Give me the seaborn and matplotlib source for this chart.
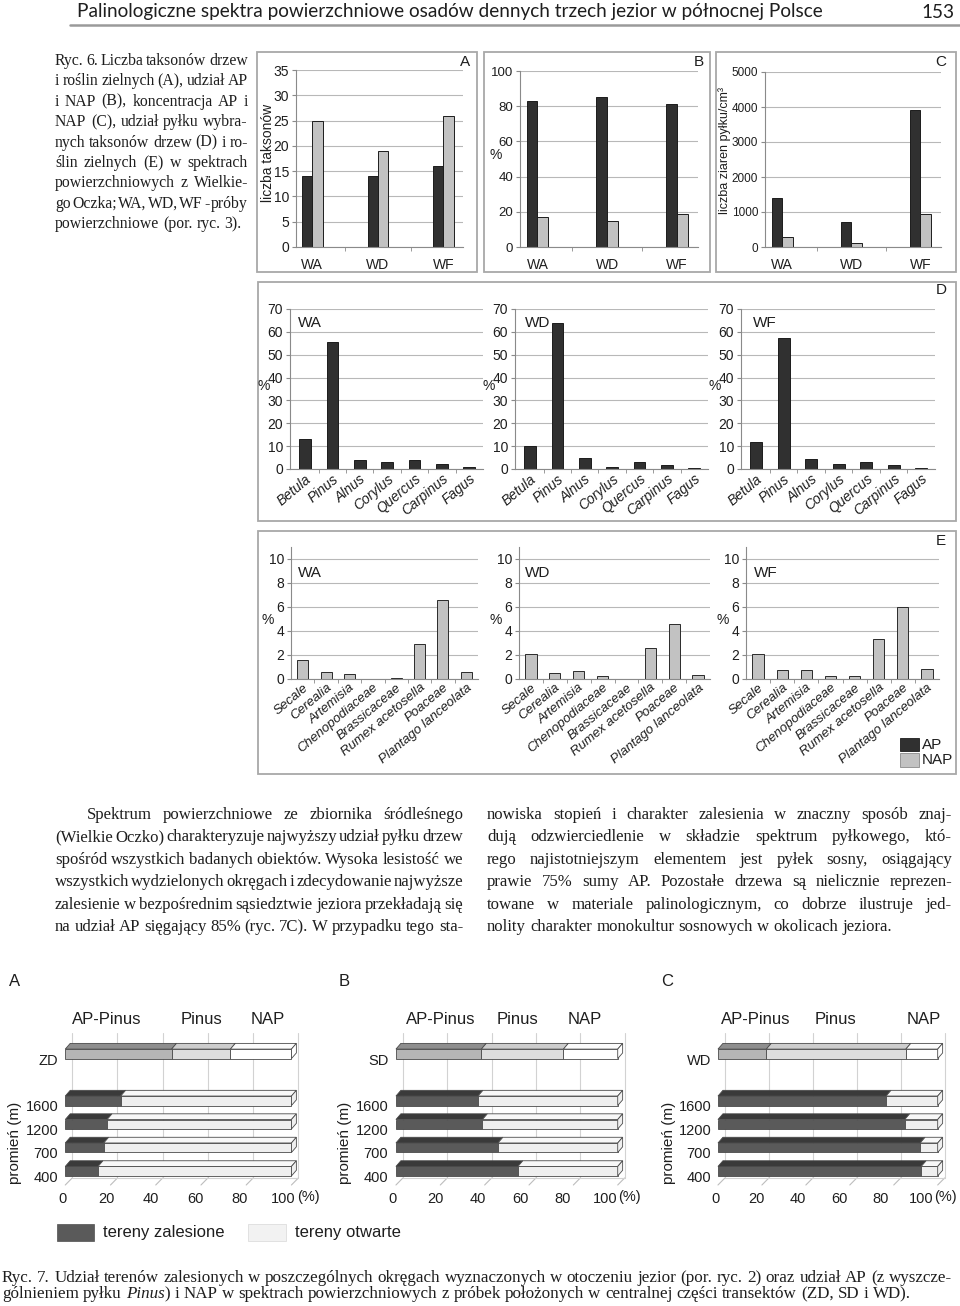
import matplotlib
matplotlib.use("Agg")
import matplotlib.pyplot as plt
import seaborn as sns
import numpy as np
import pandas as pd
from matplotlib.patches import Rectangle, Polygon
from matplotlib.lines import Line2D

# ---------------- Ryc. 6 data ----------------
samples = ["WA", "WD", "WF"]
taxa_count_ap = [14, 14, 16]
taxa_count_nap = [25, 19, 26]
share_ap = [83, 85, 81]
share_nap = [17, 15, 19]
conc_ap = [1400, 720, 3920]
conc_nap = [280, 110, 940]

tree_taxa = ["Betula", "Pinus", "Alnus", "Corylus", "Quercus", "Carpinus", "Fagus"]
trees_wa = [13.3, 55.5, 3.8, 3.2, 3.8, 2.0, 1.0]
trees_wd = [10.2, 63.8, 4.9, 1.0, 3.1, 1.6, 0.6]
trees_wf = [11.7, 57.2, 4.5, 2.2, 3.1, 1.9, 0.6]

herb_taxa = ["Secale", "Cerealia", "Artemisia", "Chenopodiaceae", "Brassicaceae",
             "Rumex acetosella", "Poaceae", "Plantago lanceolata"]
herbs_wa = [1.6, 0.55, 0.42, 0, 0.06, 2.9, 6.6, 0.55]
herbs_wd = [2.1, 0.5, 0.68, 0.28, 0, 2.6, 4.6, 0.32]
herbs_wf = [2.1, 0.78, 0.78, 0.28, 0.28, 3.3, 6.0, 0.83]

# ---------------- Ryc. 7 data ----------------
radii = ["400", "700", "1200", "1600"]
forest_a = [14.5, 17, 18.5, 24.5]
forest_b = [55, 46, 39, 37]
forest_c = [92.5, 92, 85, 76.5]
centre_samples = ["ZD", "SD", "WD"]
spectrum_parts = ["AP-Pinus", "Pinus", "NAP"]
spectrum_a = [47, 26, 27]
spectrum_b = [38.5, 37, 24.5]
spectrum_c = [22, 63.5, 14.5]
pct_ticks = [0, 20, 40, 60, 80, 100]

# ---------------- text ----------------
header = "Palinologiczne spektra powierzchniowe osadów dennych trzech jezior w północnej Polsce"
caption6 = [
    "Ryc. 6. Liczba taksonów drzew",
    "i roślin zielnych (A), udział AP",
    "i NAP (B), koncentracja AP i",
    "NAP (C), udział pyłku wybra-",
    "nych taksonów drzew (D) i ro-",
    "ślin zielnych (E) w spektrach",
    "powierzchniowych z Wielkie-",
    "go Oczka; WA, WD, WF - próby",
    "powierzchniowe (por. ryc. 3).",
]
body_left = [
    "Spektrum powierzchniowe ze zbiornika śródleśnego",
    "(Wielkie Oczko) charakteryzuje najwyższy udział pyłku drzew",
    "spośród wszystkich badanych obiektów. Wysoka lesistość we",
    "wszystkich wydzielonych okręgach i zdecydowanie najwyższe",
    "zalesienie w bezpośrednim sąsiedztwie jeziora przekładają się",
    "na udział AP sięgający 85% (ryc. 7C). W przypadku tego sta-",
]
body_right = [
    "nowiska stopień i charakter zalesienia w znaczny sposób znaj-",
    "dują odzwierciedlenie w składzie spektrum pyłkowego, któ-",
    "rego najistotniejszym elementem jest pyłek sosny, osiągający",
    "prawie 75% sumy AP. Pozostałe drzewa są nielicznie reprezen-",
    "towane w materiale palinologicznym, co dobrze ilustruje jed-",
    "nolity charakter monokultur sosnowych w okolicach jeziora.",
]
caption7 = [
    "Ryc. 7. Udział terenów zalesionych w poszczególnych okręgach wyznaczonych w otoczeniu jezior (por. ryc. 2) oraz udział AP (z wyszcze-",
    "gólnieniem pyłku *Pinus*) i NAP w spektrach powierzchniowych z próbek położonych w centralnej części transektów (ZD, SD i WD).",
]

sns.set_style("white")
SANS = ["Liberation Sans", "DejaVu Sans"]
SERIF = ["Liberation Serif", "DejaVu Serif"]
plt.rcParams["font.family"] = SANS
TXT = "#1e1e1e"
AP_COLOR = "#303030"
NAP_COLOR = "#c2c2c2"
GRID = "#b8b8b8"
AXIS = "#8a8a8a"

W, H = 960, 1306
fig = plt.figure(figsize=(W / 100, H / 100), dpi=100)
renderer = fig.canvas.get_renderer()


def fbox(x0, y0, x1, y1):
    return [x0 / W, 1 - y1 / H, (x1 - x0) / W, (y1 - y0) / H]


def ftext(x, y, s, **kw):
    kw.setdefault("color", TXT)
    return fig.text(x / W, 1 - y / H, s, **kw)


def frame(x0, y0, x1, y1, **kw):
    fig.add_artist(Rectangle((x0 / W, 1 - y1 / H), (x1 - x0) / W, (y1 - y0) / H,
                             transform=fig.transFigure, fill=False, **kw))


def measure(s, size, family, style="normal"):
    t = fig.text(0, 0, s, fontsize=size, family=family, style=style)
    w = t.get_window_extent(renderer=renderer).width
    t.remove()
    return w


def segments(word):
    parts = word.split("*")
    return [(p, "italic" if i % 2 else "normal") for i, p in enumerate(parts) if p]


def word_widths(line, size, family):
    return [sum(measure(p, size, family, st) for p, st in segments(w)) for w in line.split()]


def put_line(line, x0, x1, y, size, family, justify=True):
    segs = [segments(w) for w in line.split()]
    widths = word_widths(line, size, family)
    space = measure("a a", size, family) - measure("aa", size, family)
    if justify and len(segs) > 1:
        gap = (x1 - x0 - sum(widths)) / (len(segs) - 1)
    else:
        gap = space
    x = x0
    for sg, w in zip(segs, widths):
        xx = x
        for p, st in sg:
            ftext(xx, y, p, fontsize=size, family=family, style=st, va="baseline", ha="left")
            xx += measure(p, size, family, st)
        x += w + gap


def put_block(lines, spans, ys, family, free_last, min_gap=0.3):
    # one size for the whole block: typical fit, but every justified line must keep a small gap
    space10 = measure("a a", 10, family) - measure("aa", 10, family)
    fits, tight = [], []
    for i, (line, (x0, x1)) in enumerate(zip(lines, spans)):
        if i in free_last:
            continue
        n = len(line.split())
        w10 = sum(word_widths(line, 10, family))
        fits.append(10 * (x1 - x0) / (w10 + (n - 1) * space10))
        tight.append(10 * (x1 - x0) / (w10 + (n - 1) * min_gap * space10))
    size = min(float(np.median(fits)), min(tight))
    for i, (line, (x0, x1), y) in enumerate(zip(lines, spans, ys)):
        put_line(line, x0, x1, y, size, family, justify=i not in free_last)


def style_axes(ax, ylim, yticks):
    ax.set_ylim(*ylim)
    ax.set_yticks(yticks)
    ax.grid(axis="y", color=GRID, lw=0.8)
    ax.grid(axis="x", visible=False)
    ax.set_axisbelow(True)
    for s in ["top", "right"]:
        ax.spines[s].set_visible(False)
    for s in ["left", "bottom"]:
        ax.spines[s].set_color(AXIS)
        ax.spines[s].set_linewidth(0.8)
    ax.tick_params(axis="y", length=3, color=AXIS, labelsize=10, pad=2, left=True, labelcolor=TXT)
    ax.tick_params(axis="x", which="major", length=0, labelcolor=TXT)
    ax.tick_params(axis="x", which="minor", length=3, color=AXIS, bottom=True)
    ax.set_xlabel("")
    ax.set_ylabel("")
    ax.patch.set_alpha(0)


def italic_rotated(ax, size):
    ax.tick_params(axis="x", labelsize=size, pad=2)
    for lab in ax.get_xticklabels():
        lab.set_rotation(40)
        lab.set_ha("right")
        lab.set_rotation_mode("anchor")
        lab.set_style("italic")


# ---------------- header ----------------
hsize = 10 * 750 / measure(header, 10, "Lato")
ftext(77, 17.5, header, fontsize=hsize, family="Lato", va="baseline")
ftext(954, 17.5, "153", fontsize=hsize, family="Lato", va="baseline", ha="right")
fig.add_artist(Line2D([70 / W, 1], [1 - 25 / H] * 2, transform=fig.transFigure, color="#9a9a9a", lw=1.8))

# ---------------- caption Ryc. 6 ----------------
put_block(caption6, [(55, 248)] * len(caption6), [65 + 20.4 * i for i in range(len(caption6))],
          SERIF, free_last={len(caption6) - 1})

# ---------------- Ryc. 6 A, B, C ----------------
pair_panels = [
    ("A", (257, 52, 477, 272), (296, 70, 463, 247), taxa_count_ap, taxa_count_nap, 35, 5, 465, 10),
    ("B", (484, 52, 710, 272), (520, 71, 698, 247), share_ap, share_nap, 100, 20, 699, 9.5),
    ("C", (716, 52, 956, 272), (765, 72, 941, 247), conc_ap, conc_nap, 5000, 1000, 941, 8.5),
]
for letter, fr, axp, ap, nap, ymax, step, lx, ysize in pair_panels:
    frame(*fr, edgecolor="#a8a8a8", lw=1.3)
    ax = fig.add_axes(fbox(*axp))
    df = pd.DataFrame({"sample": samples * 2, "group": ["AP"] * 3 + ["NAP"] * 3, "value": ap + nap})
    sns.barplot(df, x="sample", y="value", hue="group", palette={"AP": AP_COLOR, "NAP": NAP_COLOR},
                width=0.31, saturation=1, edgecolor="#1c1c1c", linewidth=0.7, errorbar=None,
                legend=False, ax=ax)
    ax.set_xlim(-0.25, 2.3)
    ax.set_xticks([0.5, 1.5], minor=True)
    style_axes(ax, (0, ymax), np.arange(0, ymax + step / 2, step))
    ax.tick_params(axis="x", labelsize=10, pad=8)
    ax.tick_params(axis="y", labelsize=ysize)
    ftext(lx, 62, letter, fontsize=11, ha="center", va="center")

ftext(268, 153, "liczba taksonów", fontsize=10, rotation=90, ha="center", va="center")
ftext(496, 155, "%", fontsize=10, ha="center", va="center")
ftext(725, 150, "liczba ziaren pyłku/cm³", fontsize=9, rotation=90, ha="center", va="center")

# ---------------- Ryc. 6 D ----------------
frame(258, 282, 956, 521, edgecolor="#a8a8a8", lw=1.3)
ftext(941, 290, "D", fontsize=11, ha="center", va="center")
tree_panels = [
    (trees_wa, "WA", (290, 309, 483, 469), 264, 310),
    (trees_wd, "WD", (515, 309, 708, 469), 489, 538),
    (trees_wf, "WF", (741, 309, 935, 469), 715, 765),
]
for vals, name, axp, px, nx in tree_panels:
    ax = fig.add_axes(fbox(*axp))
    sns.barplot(x=tree_taxa, y=vals, color=AP_COLOR, saturation=1, width=0.43,
                edgecolor="#1c1c1c", linewidth=0.7, errorbar=None, ax=ax)
    ax.set_xlim(-0.55, 6.5)
    ax.set_xticks(np.arange(len(tree_taxa) - 1) + 0.5, minor=True)
    style_axes(ax, (0, 70), np.arange(0, 71, 10))
    italic_rotated(ax, 10)
    ftext(px, 386, "%", fontsize=10, ha="center", va="center")
    ftext(nx, 323, name, fontsize=11, ha="center", va="center")

# ---------------- Ryc. 6 E ----------------
frame(258, 531, 956, 774, edgecolor="#a8a8a8", lw=1.3)
ftext(941, 541, "E", fontsize=11, ha="center", va="center")
herb_panels = [
    (herbs_wa, "WA", (291, 547, 478, 679), 268, 310),
    (herbs_wd, "WD", (519, 547, 710, 679), 496, 538),
    (herbs_wf, "WF", (746, 547, 939, 679), 723, 766),
]
for vals, name, axp, px, nx in herb_panels:
    ax = fig.add_axes(fbox(*axp))
    sns.barplot(x=herb_taxa, y=vals, color=NAP_COLOR, saturation=1, width=0.47,
                edgecolor="#2a2a2a", linewidth=0.7, errorbar=None, ax=ax)
    ax.set_xlim(-0.5, 7.5)
    ax.set_xticks(np.arange(len(herb_taxa) - 1) + 0.5, minor=True)
    style_axes(ax, (0, 11), np.arange(0, 11, 2))
    italic_rotated(ax, 9.5)
    ftext(px, 620, "%", fontsize=10, ha="center", va="center")
    ftext(nx, 573, name, fontsize=11, ha="center", va="center")

# legend AP / NAP
fig.add_artist(Rectangle((900 / W, 1 - 751 / H), 19 / W, 13 / H, transform=fig.transFigure,
                         facecolor=AP_COLOR, edgecolor="#1c1c1c", lw=0.6))
fig.add_artist(Rectangle((900 / W, 1 - 767 / H), 19 / W, 14 / H, transform=fig.transFigure,
                         facecolor=NAP_COLOR, edgecolor="#8a8a8a", lw=0.6))
ftext(922, 745, "AP", fontsize=11, va="center")
ftext(922, 760, "NAP", fontsize=11, va="center")

# ---------------- body text ----------------
body_lines = body_left + body_right
body_spans = [(87, 463)] + [(55, 463)] * 5 + [(487, 952)] * 6
body_ys = [819 + 22.4 * i for i in range(6)] * 2
put_block(body_lines, body_spans, body_ys, SERIF, free_last={len(body_lines) - 1})

# ---------------- Ryc. 7 ----------------
FOREST, FOREST_TOP = "#5a5a5a", "#3a3a3a"
OPEN, OPEN_TOP = "#efefef", "#f8f8f8"
SPEC = [("#b5b5b5", "#8e8e8e"), ("#dedede", "#cdcdcd"), ("#ffffff", "#fbfbfb")]
EDGE = "#4a4a4a"
ROW_PX = 23.47
ROW1_Y = 1171.2
BAR_H = 9.5 / ROW_PX
DY = 5.7 / ROW_PX
rows = np.arange(1, len(radii) + 1)
centre_row = len(radii) + 2


def row_of(y_px):
    return 1 + (ROW1_Y - y_px) / ROW_PX


def cube_faces(ax, y, left, width, dx, top_color, side=False, side_color="#ffffff"):
    yt = y + BAR_H / 2
    yb = y - BAR_H / 2
    ax.add_patch(Polygon([(left, yt), (left + width, yt), (left + width + dx, yt + DY), (left + dx, yt + DY)],
                         closed=True, facecolor=top_color, edgecolor=EDGE, lw=0.6, zorder=3))
    if side:
        r = left + width
        ax.add_patch(Polygon([(r, yb), (r, yt), (r + dx, yt + DY), (r + dx, yb + DY)],
                             closed=True, facecolor=side_color, edgecolor=EDGE, lw=0.6, zorder=3))


# letter, 0% front x, px per %, tick label 0 x, tick label span, (%) x, data...
transects = [
    ("A", 62.3, 2.29, 59.3, 224, 297, forest_a, spectrum_a, "ZD", [107, 202, 268]),
    ("B", 392.5, 2.25, 389.0, 216, 618, forest_b, spectrum_b, "SD", [441, 518, 585]),
    ("C", 715.5, 2.22, 713.0, 208, 934, forest_c, spectrum_c, "WD", [756, 836, 924]),
]
for letter, x0, ppx, t0, tspan, pct_x, forest, spectrum, cname, label_x in transects:
    ax = fig.add_axes(fbox(x0, 1033, x0 + 240, 1186))
    ax.set_xlim(0, 240 / ppx)
    ax.set_ylim(row_of(1186), row_of(1033))
    for s in ax.spines.values():
        s.set_visible(False)
    ax.patch.set_alpha(0)
    dx = 5 / ppx
    back = 7 / ppx
    # back wall grid and floor
    floor_back = row_of(1178)
    floor_front = row_of(1185)
    for v in pct_ticks:
        ax.plot([v + back, v + back], [floor_back, row_of(1033)], color="#d2d2d2", lw=0.8, zorder=0)
        ax.plot([v, v + back], [floor_front, floor_back], color="#bdbdbd", lw=0.8, zorder=0)
    ax.plot([back, 100 + back], [floor_back, floor_back], color="#d2d2d2", lw=0.8, zorder=0)
    # radius bars (front faces)
    forest = np.array(forest, dtype=float)
    ax.barh(rows, forest, height=BAR_H, color=FOREST, edgecolor=EDGE, lw=0.6, zorder=2)
    ax.barh(rows, 100 - forest, left=forest, height=BAR_H, color=OPEN, edgecolor=EDGE, lw=0.6, zorder=2)
    for y, f in zip(rows, forest):
        cube_faces(ax, y, 0, f, dx, FOREST_TOP)
        cube_faces(ax, y, f, 100 - f, dx, OPEN_TOP, side=True, side_color=OPEN)
    # centre sample spectrum
    left = 0
    for val, (c_front, c_top) in zip(spectrum, SPEC):
        ax.barh([centre_row], [val], left=left, height=BAR_H, color=c_front, edgecolor=EDGE, lw=0.6, zorder=2)
        cube_faces(ax, centre_row, left, val, dx, c_top, side=left + val >= 99.9, side_color="#ffffff")
        left += val
    ax.set_yticks(list(rows - 0.22) + [centre_row - 0.25])
    ax.set_yticklabels(radii + [cname])
    ax.set_xticks([(t0 + v * tspan / 100 - x0) / ppx for v in pct_ticks])
    ax.set_xticklabels([str(v) for v in pct_ticks])
    ax.tick_params(axis="y", length=0, pad=3, labelsize=10.5, labelcolor=TXT)
    ax.tick_params(axis="x", length=0, pad=4, labelsize=10.5, labelcolor=TXT)
    ftext(pct_x, 1197, "(%)", fontsize=10.5, va="center", ha="left")
    for name, lx in zip(spectrum_parts, label_x):
        ftext(lx, 1019, name, fontsize=12, ha="center", va="center")
    ftext(x0 - 47, 1143, "promień (m)", fontsize=11, rotation=90, ha="center", va="center")
    ftext(x0 - 48, 982, letter, fontsize=12, ha="center", va="center")

# legend Ryc. 7
fig.add_artist(Rectangle((57 / W, 1 - 1241 / H), 37 / W, 17 / H, transform=fig.transFigure,
                         facecolor=FOREST, edgecolor="#505050", lw=0.5))
fig.add_artist(Rectangle((248 / W, 1 - 1241 / H), 38 / W, 17 / H, transform=fig.transFigure,
                         facecolor="#f2f2f2", edgecolor="#dddddd", lw=0.6))
ftext(103, 1232, "tereny zalesione", fontsize=12, va="center")
ftext(295, 1232, "tereny otwarte", fontsize=12, va="center")

# ---------------- caption Ryc. 7 ----------------
put_block(caption7, [(2, 952)] * 2, [1282, 1298], SERIF, free_last={1})

fig.savefig("out.png", dpi=100)
